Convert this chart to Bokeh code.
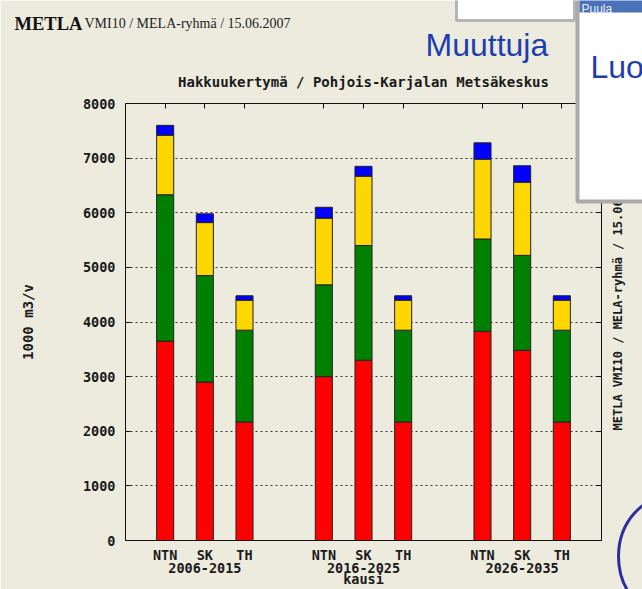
from bokeh.plotting import figure
from bokeh.models import ColumnDataSource, FixedTicker, LinearAxis, Range1d, GridBox, Column
from bokeh.core.properties import value
from bokeh.embed import file_html
from bokeh.resources import INLINE
import math

# ---- data ----
categories = ["NTN", "SK", "TH", "NTN", "SK", "TH", "NTN", "SK", "TH"]
periods = ["2006-2015", "2016-2025", "2026-2035"]
x_pos = [1, 2, 3, 5, 6, 7, 9, 10, 11]
period_pos = [2, 6, 10]
sarja1 = [3650, 2900, 2170, 3000, 3300, 2170, 3830, 3480, 2170]   # red
sarja2 = [2680, 1950, 1680, 1680, 2100, 1680, 1690, 1740, 1680]   # green
sarja3 = [1090, 970, 550, 1220, 1270, 550, 1460, 1340, 550]       # yellow
sarja4 = [180, 160, 80, 200, 180, 80, 300, 300, 80]               # blue
y_ticks = [0, 1000, 2000, 3000, 4000, 5000, 6000, 7000, 8000]
grid_ticks = [1000, 2000, 3000, 4000, 5000, 6000, 7000]

BG = "#ecebde"
MONO = "DejaVu Sans Mono"
TXT = "#1a1a1a"
W, H = 642, 589

source = ColumnDataSource(dict(x=x_pos, s1=sarja1, s2=sarja2, s3=sarja3, s4=sarja4))

p = figure(width=W, height=H, output_backend="svg", toolbar_location=None,
           x_range=Range1d(0, 12), y_range=Range1d(0, 8000),
           x_axis_location=None, y_axis_location=None,
           min_border_left=125, min_border_right=41, min_border_top=103, min_border_bottom=49,
           background_fill_color=BG, border_fill_color=BG, outline_line_color=None)

p.title.text = "Hakkuukertymä / Pohjois-Karjalan Metsäkeskus"
p.title.align = "center"
p.title.text_font = MONO
p.title.text_font_style = "bold"
p.title.text_font_size = "14px"
p.title.text_color = TXT
p.title.standoff = 28

def style_axis(ax):
    ax.axis_line_color = "#111111"
    ax.major_tick_line_color = "#111111"
    ax.minor_tick_line_color = None
    ax.major_label_text_font = MONO
    ax.major_label_text_font_style = "bold"
    ax.major_label_text_font_size = "13.5px"
    ax.major_label_text_color = TXT
    ax.axis_label_text_font = MONO
    ax.axis_label_text_font_style = "bold"
    ax.axis_label_text_font_size = "13.5px"
    ax.axis_label_text_color = TXT

# left axis
yl = LinearAxis(ticker=FixedTicker(ticks=y_ticks), axis_label="1000 m3/v")
style_axis(yl)
yl.major_tick_in = 5
yl.major_tick_out = 0
yl.major_label_standoff = 10
yl.axis_label_standoff = 44
yl.axis_label_text_font_size = "14px"
p.add_layout(yl, "left")

# right axis (ticks only)
yr = LinearAxis(ticker=FixedTicker(ticks=y_ticks),
                major_label_overrides={t: "" for t in y_ticks})
style_axis(yr)
yr.major_tick_in = 5
yr.major_tick_out = 0
yr.major_label_standoff = 0
p.add_layout(yr, "right")

# top axis (ticks at bars)
xt = LinearAxis(ticker=FixedTicker(ticks=x_pos),
                major_label_overrides={t: "" for t in x_pos})
style_axis(xt)
xt.major_tick_in = 5
xt.major_tick_out = 0
xt.major_label_standoff = 0
p.add_layout(xt, "above")

# bottom axis: category labels
xb = LinearAxis(ticker=FixedTicker(ticks=x_pos),
                major_label_overrides={t: c for t, c in zip(x_pos, categories)})
style_axis(xb)
xb.major_tick_in = 0
xb.major_tick_out = 0
xb.major_label_standoff = 6
p.add_layout(xb, "below")

# second bottom axis: periods + axis label
xg = LinearAxis(ticker=FixedTicker(ticks=period_pos),
                major_label_overrides={t: c for t, c in zip(period_pos, periods)},
                axis_label="kausi")
style_axis(xg)
xg.axis_line_color = None
xg.major_tick_in = 0
xg.major_tick_out = 0
xg.major_label_standoff = -3
xg.axis_label_standoff = -5
p.add_layout(xg, "below")

p.xgrid.visible = False
p.ygrid.ticker = FixedTicker(ticks=grid_ticks)
p.ygrid.grid_line_color = "#333333"
p.ygrid.grid_line_dash = "2 3"
p.ygrid.grid_line_width = 1

p.vbar_stack(["s1", "s2", "s3", "s4"], x="x", width=0.43,
             color=["#ff0000", "#008000", "#ffd700", "#0000ff"],
             line_color="#222222", line_width=1, source=source)

# ---- transparent overlay page (header, side stamp, slide windows) in pixel space ----
q = figure(width=W, height=H, output_backend="svg", toolbar_location=None,
           x_range=Range1d(0, W), y_range=Range1d(H, 0),
           x_axis_location=None, y_axis_location=None, min_border=0,
           background_fill_alpha=0, border_fill_alpha=0, outline_line_color=None)
q.grid.visible = False

# page header
q.text(x=[14], y=[23], text=["METLA"], text_font=value("Liberation Serif"),
       text_font_style="bold", text_font_size="18.5px", text_color="#111111",
       text_baseline="alphabetic")
q.text(x=[84], y=[23], text=["VMI10 / MELA-ryhmä / 15.06.2007"],
       text_font=value("Liberation Serif"), text_font_size="14px",
       text_color="#222222", text_baseline="alphabetic")

# side stamp (gnuplot timestamp), reading upwards
q.text(x=[617], y=[430], text=["METLA VMI10 / MELA-ryhmä / 15.06.2007"], angle=math.pi / 2,
       text_font=value(MONO), text_font_style="bold", text_font_size="12px",
       text_color=TXT, text_align="left", text_baseline="middle")

# slide elements covering the chart
q.quad(left=[456], right=[574], top=[-10], bottom=[20], fill_color="white",
       line_color="#b5b5b5", line_width=3)
q.text(x=[425], y=[44], text=["Muuttuja"], text_font=value("Liberation Sans"),
       text_font_size="32px", text_color="#1d3fae", text_baseline="alphabetic")
q.quad(left=[577], right=[700], top=[-10], bottom=[201], fill_color="white",
       line_color="#aaaaaa", line_width=4)
q.quad(left=[579], right=[700], top=[-10], bottom=[12], fill_color="#4a72b8",
       line_color=None)
q.text(x=[581], y=[8], text=["Puula"], text_font=value("Liberation Sans"),
       text_font_size="12px", text_color="#e8eef8", text_baseline="alphabetic")
q.text(x=[590], y=[66], text=["Luo"], text_font=value("Liberation Sans"),
       text_font_size="32px", text_color="#1d3fae", text_baseline="alphabetic")
q.ellipse(x=[672], y=[556], width=[108], height=[122], fill_alpha=0,
          line_color="#2e2e9c", line_width=3)

layout = GridBox(children=[(p, 0, 0), (Column(children=[q]), 0, 0)])

open("out.html", "w").write(file_html(layout, INLINE))
